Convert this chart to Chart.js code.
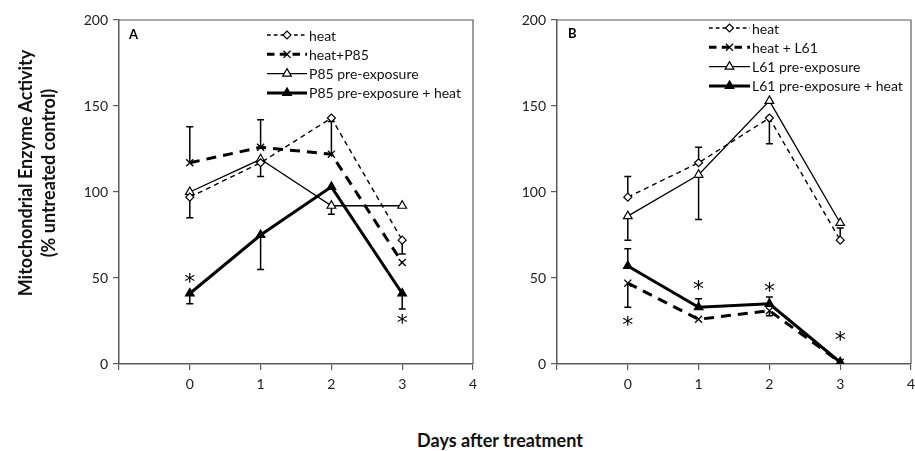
<!DOCTYPE html>
<html>
<head>
<meta charset="utf-8">
<script src="https://cdn.jsdelivr.net/npm/chart.js@4.4.1/dist/chart.umd.min.js"></script>
<style>
  html,body{margin:0;padding:0;background:#fff;}
  body{width:915px;height:451px;position:relative;overflow:hidden;font-family:Lato, "Open Sans", sans-serif;}
  #wa{position:absolute;left:0;top:0;width:490px;height:400px;}
  #wb{position:absolute;left:440px;top:0;width:490px;height:400px;}
  #ytitle{position:absolute;left:37px;top:173px;width:340px;transform:translate(-50%,-50%) rotate(-90deg);
    text-align:center;font:bold 18px Lato, sans-serif;line-height:23px;color:#111;white-space:nowrap;}
  #xtitle{position:absolute;left:500px;top:440px;transform:translate(-50%,-50%);
    font:bold 18px Lato, sans-serif;color:#111;white-space:nowrap;}
</style>
</head>
<body>
<div id="wa"><canvas id="ca"></canvas></div>
<div id="wb"><canvas id="cb"></canvas></div>
<div id="ytitle">Mitochondrial Enzyme Activity<br>(% untreated control)</div>
<div id="xtitle">Days after treatment</div>
<script>
// ---------- data ----------
const days = [0, 1, 2, 3];
const xTickValues = [0, 1, 2, 3, 4];
const yTickValues = [0, 50, 100, 150, 200];

// Panel A
const aLabels = ['heat', 'heat+P85', 'P85 pre-exposure', 'P85 pre-exposure + heat'];
const aHeat        = [97, 117, 143, 72];
const aHeatP85     = [117, 126, 122, 59];
const aP85Pre      = [100, 119, 92, 92];
const aP85PreHeat  = [41, 75, 103, 41];
// error bar end values (null = none)
const aHeatErr       = [85, null, null, 64];
const aHeatP85Err    = [138, 142, 141, null];
const aP85PreErr     = [null, 109, 87, null];
const aP85PreHeatErr = [35, 55, null, 32];
const aStarX = [0, 3];
const aStarY = [50, 26];

// Panel B
const bLabels = ['heat', 'heat + L61', 'L61 pre-exposure', 'L61 pre-exposure + heat'];
const bHeat        = [97, 117, 143, 72];
const bHeatL61     = [47, 26, 31, 1];
const bL61Pre      = [86, 110, 153, 82];
const bL61PreHeat  = [57, 33, 35, 1];
const bHeatErr       = [109, 126, 128, 79];
const bHeatL61Err    = [33, null, 28, null];
const bL61PreErr     = [72, 84, null, null];
const bL61PreHeatErr = [67, 38, 39, null];
const bStarX = [0, 1, 2, 3];
const bStarY = [25, 46, 45, 16];

// ---------- styles ----------
const FONT = 'Lato, "Open Sans", sans-serif';
const AX = '#5a5a5a';

function pts(vals){ return days.map((d,i)=>({x:d, y:vals[i]})); }

function makeDatasets(labels, s1, s2, s3, s4, e1, e2, e3, e4){
  return [
    {label:labels[0], data:pts(s1), errEnd:e1, borderColor:'#000', borderWidth:1.4, borderDash:[5,4],
     pointStyle:'rectRot', pointRadius:4, pointBackgroundColor:'#fff', pointBorderColor:'#000', pointBorderWidth:1.2},
    {label:labels[1], data:pts(s2), errEnd:e2, borderColor:'#000', borderWidth:3, borderDash:[10,7],
     pointStyle:'crossRot', pointRadius:5, pointBackgroundColor:'#fff', pointBorderColor:'#000', pointBorderWidth:1.3},
    {label:labels[2], data:pts(s3), errEnd:e3, borderColor:'#000', borderWidth:1.3,
     pointStyle:'triangle', pointRadius:5, pointBackgroundColor:'#fff', pointBorderColor:'#000', pointBorderWidth:1.2},
    {label:labels[3], data:pts(s4), errEnd:e4, borderColor:'#000', borderWidth:3,
     pointStyle:'triangle', pointRadius:5, pointBackgroundColor:'#000', pointBorderColor:'#000', pointBorderWidth:1.2},
  ];
}

// plugin: box, error bars, stars, legend, panel letter
const extras = {
  id:'extras',
  beforeDatasetsDraw(chart){
    const ctx = chart.ctx, ca = chart.chartArea;
    ctx.save();
    ctx.strokeStyle = AX; ctx.lineWidth = 1.2;
    ctx.beginPath();
    ctx.moveTo(ca.left, ca.top); ctx.lineTo(ca.right, ca.top); ctx.lineTo(ca.right, ca.bottom);
    ctx.stroke();
    // error bars
    const xs = chart.scales.x, ys = chart.scales.y;
    ctx.strokeStyle = '#000'; ctx.lineWidth = 1.5; ctx.setLineDash([]);
    chart.data.datasets.forEach(ds=>{
      (ds.errEnd||[]).forEach((e,i)=>{
        if(e===null || e===undefined) return;
        const px = xs.getPixelForValue(ds.data[i].x);
        const p0 = ys.getPixelForValue(ds.data[i].y);
        const p1 = ys.getPixelForValue(e);
        ctx.beginPath();
        ctx.moveTo(px, p0); ctx.lineTo(px, p1);
        ctx.moveTo(px-3.5, p1); ctx.lineTo(px+3.5, p1);
        ctx.stroke();
      });
    });
    ctx.restore();
  },
  afterDraw(chart, args, opts){
    const ctx = chart.ctx;
    const xs = chart.scales.x, ys = chart.scales.y;
    ctx.save();
    // stars (glyph centred on the value)
    ctx.fillStyle = '#000';
    ctx.font = '22px "DejaVu Sans", sans-serif';
    ctx.textAlign = 'center'; ctx.textBaseline = 'alphabetic';
    const m = ctx.measureText('*');
    const off = (m.actualBoundingBoxAscent - m.actualBoundingBoxDescent) / 2;
    opts.starX.forEach((sx,i)=>{
      ctx.fillText('*', xs.getPixelForValue(sx), ys.getPixelForValue(opts.starY[i]) + off);
    });
    // panel letter
    ctx.font = 'bold 13px ' + FONT;
    ctx.textAlign = 'left'; ctx.textBaseline = 'middle';
    ctx.fillText(opts.letter, opts.letterX, opts.letterY);
    // legend
    const lg = opts.legend;
    chart.data.datasets.forEach((ds,i)=>{
      const y = lg.y + i*lg.row;
      ctx.save();
      ctx.strokeStyle = '#000';
      ctx.lineWidth = ds.borderWidth;
      ctx.setLineDash(ds.borderDash ? ds.borderDash.map(v=>v*0.75) : []);
      ctx.beginPath(); ctx.moveTo(lg.x, y); ctx.lineTo(lg.x + lg.w, y); ctx.stroke();
      ctx.setLineDash([]);
      ctx.fillStyle = ds.pointBackgroundColor; ctx.strokeStyle = ds.pointBorderColor;
      ctx.lineWidth = ds.pointBorderWidth;
      Chart.helpers.drawPoint(ctx, {pointStyle:ds.pointStyle, radius:ds.pointRadius, rotation:0, borderWidth:ds.pointBorderWidth}, lg.x + lg.w/2, y);
      ctx.restore();
      ctx.fillStyle = '#111';
      ctx.font = '14px ' + FONT;
      ctx.textAlign = 'left'; ctx.textBaseline = 'middle';
      ctx.fillText(ds.label, lg.x + lg.w + 2, y + 1);
    });
    ctx.restore();
  }
};

function makeChart(id, datasets, yAxisWidth, padRight, extraOpts){
  return new Chart(document.getElementById(id), {
    type:'line',
    data:{datasets},
    plugins:[extras],
    options:{
      responsive:true, maintainAspectRatio:false, animation:false,
      layout:{padding:{left:0, right:padRight, top:20, bottom:0}},
      plugins:{legend:{display:false}, tooltip:{enabled:false}, extras:extraOpts},
      elements:{line:{tension:0}},
      scales:{
        x:{type:'linear', min:-1, max:4,
           afterBuildTicks(s){ s.ticks = [-1].concat(xTickValues).map(v=>({value:v})); },
           afterFit(s){ s.height = 36; },
           ticks:{autoSkip:false, maxRotation:0, padding:6, color:'#222', font:{family:FONT, size:14},
                  callback:v=> v < 0 ? '' : String(v)},
           grid:{display:true, drawOnChartArea:false, drawTicks:true, tickLength:6, color:AX, lineWidth:1.2},
           border:{display:true, color:AX, width:1.5}},
        y:{type:'linear', min:0, max:200,
           afterBuildTicks(s){ s.ticks = yTickValues.map(v=>({value:v})); },
           afterFit(s){ s.width = yAxisWidth; },
           ticks:{autoSkip:false, padding:5, color:'#222', font:{family:FONT, size:14}},
           grid:{display:true, drawOnChartArea:false, drawTicks:true, tickLength:6, color:AX, lineWidth:1.2},
           border:{display:true, color:AX, width:1.5}}
      }
    }
  });
}

makeChart('ca',
  makeDatasets(aLabels, aHeat, aHeatP85, aP85Pre, aP85PreHeat, aHeatErr, aHeatP85Err, aP85PreErr, aP85PreHeatErr),
  119, 490-473,
  {starX:aStarX, starY:aStarY, letter:'A', letterX:129, letterY:35,
   legend:{x:267, y:35, row:19.3, w:40}});

makeChart('cb',
  makeDatasets(bLabels, bHeat, bHeatL61, bL61Pre, bL61PreHeat, bHeatErr, bHeatL61Err, bL61PreErr, bL61PreHeatErr),
  557-440, 930-911,
  {starX:bStarX, starY:bStarY, letter:'B', letterX:128, letterY:34,
   legend:{x:269, y:28, row:19.3, w:41}});
</script>
</body>
</html>
